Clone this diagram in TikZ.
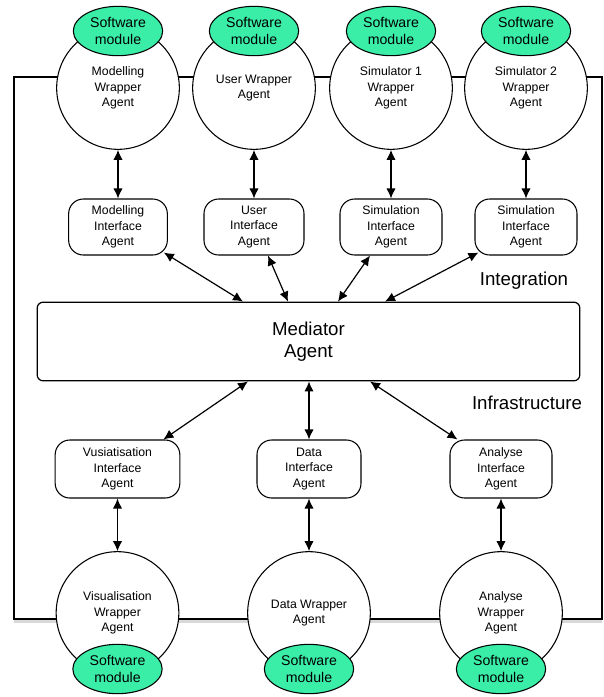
\documentclass[tikz,border=0pt]{standalone}
\usepackage{fontspec}
\setmainfont{Liberation Sans}
\usepackage{xcolor}
\usetikzlibrary{arrows.meta}
\usetikzlibrary{calc}
\usetikzlibrary{shapes.geometric,shadows}

\definecolor{modgreen}{RGB}{58,238,168}

\tikzset{
	wrapper/.style={draw, circle, fill=white, line width=0.8pt, minimum size=92pt, inner sep=0pt, align=center, font=\fontsize{9.2}{11.8}\selectfont},
	module/.style={draw, ellipse, fill=modgreen, line width=0.8pt, minimum width=67pt, minimum height=37pt, inner sep=0pt, align=center, font=\fontsize{10.6}{12.8}\selectfont},
	iface/.style={draw, fill=white, line width=0.8pt, rounded corners=11pt, inner sep=0pt, align=center, font=\fontsize{9.2}{11.8}\selectfont},
	mediator/.style={draw, fill=white, line width=0.9pt, rounded corners=4.5pt, minimum width=407pt, minimum height=59pt, align=center, font=\fontsize{14}{16.5}\selectfont},
	layer/.style={font=\fontsize{14}{16.5}\selectfont},
	link/.style={{Latex[length=7.5pt,width=7pt]}-{Latex[length=7.5pt,width=7pt]}, line width=0.9pt},
}

\begin{document}
\begin{tikzpicture}[x=0.75pt,y=-0.75pt]
		
		\useasboundingbox (0,0) rectangle (604,697);
		
		% The outer frame
		\draw[line width=1.1pt, fill=white, drop shadow={opacity=0.3, shadow xshift=0pt, shadow yshift=-3pt}]
		(14,77) rectangle (602,619);
		
		% Wrapper agents, top row
		\node[wrapper] (modW) at (118,88) {Modelling\\Wrapper\\Agent};
		\node[wrapper] (usrW) at (254,88) {User Wrapper\\Agent};
		\node[wrapper] (simAW) at (391,88) {Simulator 1\\Wrapper\\Agent};
		\node[wrapper] (simBW) at (526,88) {Simulator 2\\Wrapper\\Agent};
		
		% Software modules, top row
		\node[module] (modS) at (118,31) {Software\\module};
		\node[module] (usrS) at (254,31) {Software\\module};
		\node[module] (simAS) at (391,31) {Software\\module};
		\node[module] (simBS) at (526,31) {Software\\module};
		
		% Interface agents, top row
		\node[iface, minimum width=74pt, minimum height=42pt] (modI) at (118,227) {Modelling\\Interface\\Agent};
		\node[iface, minimum width=75pt, minimum height=42pt] (usrI) at (254,227) {User\\Interface\\Agent};
		\node[iface, minimum width=76.5pt, minimum height=42pt] (simAI) at (391,227) {Simulation\\Interface\\Agent};
		\node[iface, minimum width=76.5pt, minimum height=42pt] (simBI) at (526,227) {Simulation\\Interface\\Agent};
		
		% The mediator and the layer names
		\node[mediator] (med) at (308.5,341.5) {Mediator\\Agent};
		\node[layer] (integ) at (524,281) {Integration};
		\node[layer] (infra) at (527,403) {Infrastructure};
		
		% Interface agents, bottom row
		\node[iface, minimum width=93.5pt, minimum height=43.5pt] (visI) at (117.5,469) {Vusiatisation\\Interface\\Agent};
		\node[iface, minimum width=78pt, minimum height=43.5pt] (datI) at (309,469) {Data\\Interface\\Agent};
		\node[iface, minimum width=76.5pt, minimum height=43.5pt] (anaI) at (501,469) {Analyse\\Interface\\Agent};
		
		% Wrapper agents, bottom row
		\node[wrapper] (visW) at (117.5,613) {Visualisation\\Wrapper\\Agent};
		\node[wrapper] (datW) at (309,613) {Data Wrapper\\Agent};
		\node[wrapper] (anaW) at (501,613) {Analyse\\Wrapper\\Agent};
		
		% Software modules, bottom row
		\node[module] (visS) at (117.5,669) {Software\\module};
		\node[module] (datS) at (309,669) {Software\\module};
		\node[module] (anaS) at (501,669) {Software\\module};
		
		% Wrapper <-> interface
		\draw[link] (modW.south) -- (modI.north);
		\draw[link] (usrW.south) -- (usrI.north);
		\draw[link] (simAW.south) -- (simAI.north);
		\draw[link] (simBW.south) -- (simBI.north);
		\draw[link] (visI.south) -- (visW.north);
		\draw[link] (datI.south) -- (datW.north);
		\draw[link] (anaI.south) -- (anaW.north);
		
		% Interface <-> mediator (integration)
		\draw[link] ($(modI.south east)+(-4,-3)$) -- ($(med.north)+(-65.5,0)$);
		\draw[link] ($(usrI.south)+(14,0)$) -- ($(med.north)+(-20.5,0)$);
		\draw[link] ($(simAI.south)+(-21,0)$) -- ($(med.north)+(29.5,0)$);
		\draw[link] ($(simBI.south west)+(4,-3)$) -- ($(med.north)+(76.5,0)$);
		
		% Mediator <-> interface (infrastructure)
		\draw[link] ($(med.south)+(-60.5,0)$) -- ($(visI.north east)+(-17,0)$);
		\draw[link] (datI.north |- med.south) -- (datI.north);
		\draw[link] ($(med.south)+(61.5,0)$) -- ($(anaI.north west)+(8,0)$);
		
	\end{tikzpicture}
\end{document}
